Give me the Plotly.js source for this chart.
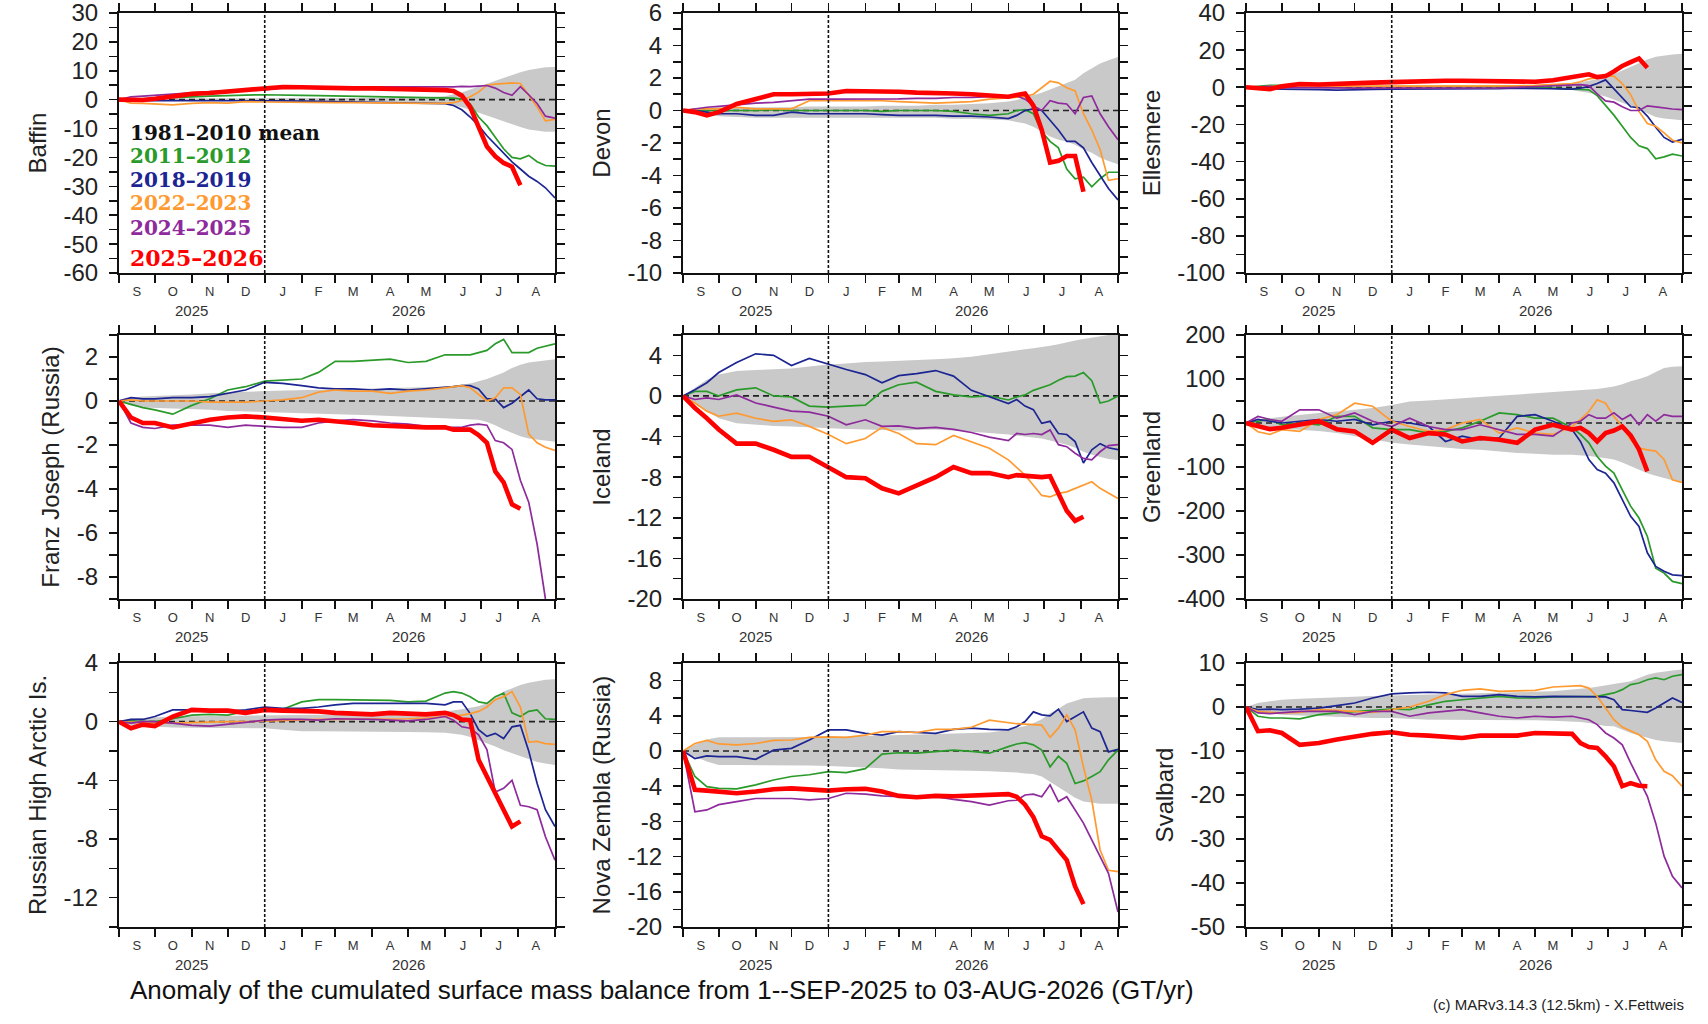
<!DOCTYPE html>
<html><head><meta charset="utf-8">
<script src="https://cdn.plot.ly/plotly-3.0.1.min.js"></script>
<style>html,body{margin:0;padding:0;background:#fff}#chart{width:1708px;height:1024px}</style>
</head><body><div id="chart"></div>
<script>
// day offsets from 1 Sep 2025
const days = [0,10,20,30,45,61,76,91,106,122,137,153,167,181,196,212,227,242,257,273,280,287,294,301,308,315,322,329,336,343,350,357,365];
const monthStarts = ['2025-09-01','2025-10-01','2025-11-01','2025-12-01','2026-01-01','2026-02-01','2026-03-01','2026-04-01','2026-05-01','2026-06-01','2026-07-01','2026-08-01','2026-09-01'];
const monthMids = ['2025-09-16','2025-10-16','2025-11-16','2025-12-16','2026-01-16','2026-02-15','2026-03-16','2026-04-16','2026-05-16','2026-06-16','2026-07-16','2026-08-16'];
const monthLetters = ['S','O','N','D','J','F','M','A','M','J','J','A'];
const yearLabels = ['2025','2026'];
const yearDates = ['2025-11-01','2026-05-01'];
const yearBreak = '2026-01-01';
const legendLabels = ['1981\u20132010 mean','2011\u20132012','2018\u20132019','2022\u20132023','2024\u20132025','2025\u20132026'];
const seriesNames = ['2011-2012','2018-2019','2022-2023','2024-2025','2025-2026'];

// ---- Baffin
const baffin_hi = [0,0.3,0.3,0.4,0.4,0.4,0.4,0.5,0.5,0.5,0.5,0.5,0.5,0.6,0.6,0.6,0.6,0.7,0.8,1.2,1.8,2.5,3.5,4.5,5.5,6.5,7.6,8.5,9.5,10.3,10.8,11.2,11.3];
const baffin_lo = [0,-0.3,-0.3,-0.4,-0.4,-0.4,-0.5,-0.5,-0.5,-0.5,-0.5,-0.5,-0.6,-0.6,-0.6,-0.6,-0.7,-0.8,-1.0,-1.4,-2.0,-2.6,-3.5,-4.5,-5.5,-6.6,-7.5,-8.5,-9.5,-10.3,-10.8,-11.1,-11.1];
const baffin_2011 = [0,0.2,0.3,0.5,0.8,1.0,1.2,1.5,1.6,1.7,1.7,1.5,1.4,1.3,1.2,1.1,1.0,1.0,0.9,0.7,0.5,0.2,-1.5,-6,-9,-13,-17,-20,-20.5,-19.3,-21.5,-22.8,-23];
const baffin_2018 = [0,-0.3,-0.3,-0.3,-0.3,-0.2,-0.3,-0.3,-0.2,-0.3,-0.4,-0.5,-0.6,-0.8,-0.9,-1.0,-1.1,-1.2,-1.3,-1.4,-2.0,-3.5,-6,-9,-12.5,-15.5,-18.5,-21.5,-24,-26.5,-28.3,-30.5,-34];
const baffin_2022 = [0,-1.2,-1.3,-1.5,-1.8,-1.3,-1.0,-1.2,-0.7,-0.8,-0.9,-1.0,-1.0,-1.0,-1.0,-1.1,-1.3,-1.4,-1.3,-1.3,-1.0,-0.3,1.0,2.6,5.0,5.4,5.6,5.8,5.6,1.5,-2.5,-7.3,-6.8];
const baffin_2024 = [0,1.0,1.2,1.5,2.0,2.5,2.8,3.0,3.2,3.5,4.0,4.2,4.3,4.3,4.4,4.4,4.3,4.5,4.4,4.3,4.4,4.6,4.5,4.7,4.9,4.0,2.5,1.5,4.5,1.7,-1.3,-5.7,-6.4];
const baffin_2025 = [0,0,-0.1,0.3,1.3,2.0,2.3,2.8,3.3,3.6,4.4,4.3,4.1,4.0,3.9,3.9,3.8,3.8,3.6,3.3,3.0,1.4,-2.6,-9.4,-16.2,-19.6,-21.9,-23.2,-29.6];
// ---- Devon
const devon_hi = [0,0.1,0.15,0.2,0.2,0.2,0.2,0.2,0.25,0.25,0.25,0.25,0.3,0.3,0.3,0.35,0.35,0.4,0.45,0.55,0.65,0.8,0.95,1.1,1.3,1.5,1.7,1.9,2.3,2.6,2.9,3.1,3.3];
const devon_lo = [0,-0.15,-0.25,-0.35,-0.4,-0.45,-0.45,-0.45,-0.45,-0.45,-0.45,-0.45,-0.45,-0.45,-0.45,-0.45,-0.5,-0.5,-0.55,-0.6,-0.7,-0.8,-1.0,-1.3,-1.6,-1.8,-1.9,-2.1,-2.4,-2.6,-2.9,-3.1,-3.3];
const devon_2011 = [0,0,0,0,0,0,0.05,0,0,0,0,0,-0.05,0,0,0,-0.05,-0.2,-0.3,-0.2,0,0.05,-0.2,-1.3,-1.9,-2.3,-3.6,-4.2,-4.1,-4.7,-4.2,-3.8,-3.8];
const devon_2018 = [0,0,-0.1,-0.2,-0.2,-0.3,-0.3,-0.1,-0.2,-0.2,-0.2,-0.2,-0.25,-0.3,-0.3,-0.3,-0.35,-0.35,-0.4,-0.5,-0.3,0,0.1,0,-0.6,-1.2,-1.9,-1.9,-2.3,-3.2,-4.0,-4.8,-5.5];
const devon_2022 = [0,0.1,0.1,0.1,0.2,0.1,0.1,0.1,0.6,0.6,0.6,0.6,0.6,0.55,0.5,0.45,0.5,0.55,0.7,0.8,0.8,0.85,1.0,1.4,1.8,1.7,1.4,1.2,-0.2,-1.2,-2.4,-4.3,-4.2];
const devon_2024 = [0,0.1,0.2,0.25,0.35,0.45,0.5,0.6,0.7,0.7,0.7,0.7,0.7,0.72,0.75,0.75,0.8,0.8,0.85,0.9,0.9,0.7,0.3,0.0,0.6,0.45,0.4,-0.2,0.8,0.9,-0.2,-1.0,-1.8];
const devon_2025 = [0,-0.1,-0.3,-0.1,0.4,0.7,1.0,1.0,1.0,1.05,1.2,1.2,1.17,1.15,1.1,1.1,1.05,1.0,0.95,0.85,0.95,1.05,0.3,-1.2,-3.2,-3.1,-2.8,-2.8,-5.0];
// ---- Ellesmere
const ellesmere_hi = [0,0.3,0.5,0.5,0.6,0.6,0.6,0.6,0.7,0.7,0.7,0.7,0.8,0.8,0.8,0.9,0.9,1.0,1.2,1.8,2.6,3.4,4.4,5.5,7.0,9.0,11,13,15,16.5,17.2,17.7,18];
const ellesmere_lo = [0,-0.3,-0.5,-0.5,-0.6,-0.6,-0.6,-0.6,-0.7,-0.7,-0.7,-0.7,-0.8,-0.8,-0.8,-0.9,-0.9,-1.0,-1.2,-1.5,-2.3,-3.0,-3.8,-5.0,-6.5,-8.3,-10,-12,-14,-16,-16.8,-17.3,-17.7];
const ellesmere_2011 = [0,0.5,1.0,1.0,1.0,0.8,0.5,0.5,0.5,0.5,0.5,0.5,0.5,0.5,0.3,0.3,0.3,0.0,-0.3,-1.0,-1.2,-1.4,-4.5,-9.5,-15,-21,-27,-31.5,-33,-38.5,-37.5,-36,-37];
const ellesmere_2018 = [0,-0.5,-0.8,-1.0,-1.0,-1.3,-1.5,-1.5,-1.2,-1.0,-1.0,-1.0,-1.0,-1.0,-1.0,-0.8,-0.5,-0.5,-0.8,-1.0,-0.5,0.5,2.0,4.0,-1.0,-6.0,-10.5,-11,-15.5,-21.5,-27,-29.5,-28];
const ellesmere_2022 = [0,0,0.5,0.5,0.5,0.5,0.5,0.5,0.5,0.5,0.5,0.5,0.5,0.5,0.5,0.5,0.8,1.0,1.5,2.0,3.0,4.5,5.0,6.0,6.0,2.0,-4.0,-13,-19.5,-21,-24.5,-28.5,-30];
const ellesmere_2024 = [0,0.3,0.5,0,0,-0.2,-0.3,-0.5,-0.5,-0.5,-0.5,-0.5,-0.5,-0.5,-0.5,-0.3,0,0.3,0.8,1.2,1.4,0.9,-3.5,-7.3,-8,-10.5,-12.5,-12.5,-10,-10.5,-11.2,-11.7,-12];
const ellesmere_2025 = [0,-0.5,-1.0,0.5,1.8,1.5,2.0,2.3,2.5,2.8,3.2,3.4,3.5,3.5,3.4,3.2,3.0,3.0,3.8,5.5,6.0,7.0,5.5,6.0,8.5,11.5,13.5,15.5,10.5];
// ---- Franz Joseph
const franz_hi = [0,0.15,0.2,0.22,0.25,0.3,0.35,0.4,0.42,0.45,0.47,0.48,0.5,0.5,0.52,0.55,0.57,0.6,0.62,0.65,0.7,0.75,0.8,0.9,1.0,1.15,1.3,1.5,1.65,1.75,1.8,1.85,1.9];
const franz_lo = [0,-0.2,-0.3,-0.32,-0.33,-0.35,-0.4,-0.45,-0.47,-0.5,-0.52,-0.55,-0.57,-0.6,-0.62,-0.65,-0.68,-0.7,-0.73,-0.77,-0.78,-0.8,-0.82,-0.85,-0.95,-1.1,-1.3,-1.45,-1.6,-1.7,-1.75,-1.8,-1.85];
const franz_2011 = [0,-0.15,-0.3,-0.4,-0.6,-0.2,0.1,0.5,0.65,0.9,0.95,1.0,1.3,1.8,1.8,1.85,1.9,1.75,1.8,2.1,2.1,2.1,2.1,2.2,2.3,2.6,2.8,2.2,2.2,2.2,2.4,2.5,2.6];
const franz_2018 = [0,0.15,0.1,0.1,0.15,0.15,0.2,0.35,0.5,0.85,0.8,0.7,0.6,0.55,0.55,0.5,0.55,0.5,0.55,0.6,0.65,0.7,0.7,0.55,0.1,0.1,-0.3,-0.1,0.2,0.5,0.1,0.05,0.05];
const franz_2022 = [0,0.05,0,0,0,0,-0.05,-0.05,-0.05,0,0.05,0.15,0.4,0.5,0.45,0.45,0.35,0.45,0.5,0.6,0.65,0.7,0.6,0.3,0,0.15,0.6,0.6,0.3,-1.5,-1.9,-2.1,-2.25];
const franz_2024 = [0,-1.0,-1.2,-1.25,-1.1,-1.1,-1.1,-1.2,-1.1,-1.15,-1.2,-1.2,-1.0,-0.9,-0.85,-0.9,-1.0,-1.05,-1.15,-1.2,-1.2,-1.2,-1.1,-1.05,-1.1,-1.8,-1.9,-2.2,-3.6,-4.6,-6.5,-9.0,-10.5];
const franz_2025 = [0,-0.75,-1.0,-1.0,-1.2,-1.0,-0.85,-0.75,-0.7,-0.75,-0.8,-0.9,-0.85,-0.9,-1.0,-1.1,-1.15,-1.15,-1.2,-1.2,-1.3,-1.3,-1.3,-1.55,-1.9,-3.2,-3.7,-4.7,-4.9];
// ---- Iceland
const iceland_hi = [0,0.8,1.6,2.1,2.45,2.55,2.6,2.7,2.9,3.1,3.2,3.35,3.4,3.45,3.5,3.6,3.7,3.85,4.1,4.4,4.5,4.6,4.7,4.8,4.95,5.1,5.3,5.45,5.6,5.75,5.9,6.0,6.1];
const iceland_lo = [0,-0.7,-1.5,-2.2,-2.7,-2.85,-2.95,-3.0,-3.1,-3.2,-3.25,-3.3,-3.35,-3.4,-3.35,-3.3,-3.4,-3.5,-3.65,-3.8,-3.9,-4.0,-4.1,-4.2,-4.4,-4.6,-4.8,-5.1,-5.5,-5.8,-6.0,-6.2,-6.3];
const iceland_2011 = [0,0.45,0.45,0.0,0.6,0.8,0.0,-0.1,-1.0,-1.1,-1.0,-0.9,0.45,1.1,1.35,0.45,0.1,-0.1,0.0,-0.4,-0.1,0.1,0.55,0.8,1.1,1.55,1.9,1.95,2.3,1.5,-0.7,-0.5,0.0];
const iceland_2018 = [0,0.6,1.3,2.3,3.3,4.15,4.0,3.0,3.7,3.1,2.6,2.1,1.3,2.0,2.2,2.5,1.95,0.55,-0.1,-0.75,-0.35,-1.0,-1.35,-2.7,-2.5,-3.7,-3.8,-4.5,-6.6,-5.3,-4.7,-5.1,-5.3];
const iceland_2022 = [0,-0.7,-1.5,-2.0,-1.7,-2.2,-2.5,-2.35,-3.0,-3.8,-4.7,-4.2,-3.1,-3.7,-4.7,-4.8,-3.9,-4.5,-5.15,-6.3,-7.1,-7.8,-8.8,-9.8,-9.95,-9.6,-9.45,-9.1,-8.8,-8.45,-9.1,-9.6,-10.1];
const iceland_2024 = [0,-0.35,-0.2,-0.35,0.1,-0.7,-1.1,-1.5,-1.6,-2.0,-2.85,-2.35,-3.0,-2.95,-3.2,-3.1,-3.3,-3.6,-4.05,-4.4,-3.7,-3.8,-3.7,-3.8,-3.35,-4.8,-5.0,-5.65,-6.15,-6.3,-5.5,-4.9,-4.8];
const iceland_2025 = [0,-1.2,-2.2,-3.3,-4.7,-4.7,-5.3,-6.0,-6.0,-7.0,-8.0,-8.1,-9.1,-9.6,-8.8,-8.0,-7.0,-7.6,-7.6,-8.0,-7.8,-7.9,-8.0,-8.0,-7.9,-9.6,-11.3,-12.3,-11.9];
// ---- Greenland
const greenland_hi = [0,6,11,14,19,23,26,30,34,41,49,51,53,56,59,62,64,67,70,72,74,75,77,80,83,88,95,100,106,116,125,128,129];
const greenland_lo = [0,-6,-11,-13,-15,-18,-23,-30,-38,-45,-49,-53,-57,-59,-61,-65,-68,-70,-72,-72,-73,-75,-77,-80,-83,-90,-98,-106,-114,-120,-125,-130,-133];
const greenland_2011 = [0,4,8,-4,0,-4,15,15,-11,-15,-15,-23,-19,-11,4,23,19,11,11,-11,-26,-45,-76,-98,-114,-152,-189,-216,-258,-330,-341,-360,-365];
const greenland_2018 = [0,8,4,0,4,8,4,8,-4,4,0,-8,-42,-30,-38,-34,15,19,4,-15,-42,-83,-106,-114,-136,-174,-212,-235,-295,-326,-337,-345,-347];
const greenland_2022 = [0,-20,-26,-15,-19,8,19,45,38,4,-8,-19,-15,0,8,-23,-11,-23,-26,-8,8,26,53,45,15,-8,-38,-57,-61,-64,-83,-129,-135];
const greenland_2024 = [0,15,8,4,30,30,11,23,4,-8,11,-8,-15,-15,-4,-15,-26,-26,-30,0,4,19,11,11,23,8,19,-4,19,4,19,15,15];
const greenland_2025 = [0,-6,-14,-11,-4,4,-14,-19,-45,-15,-34,-23,-26,-42,-34,-38,-45,-15,-4,-15,-11,-23,-42,-23,-17,-8,-28,-60,-110];
// ---- Russian High Arctic
const rha_hi = [0,0.2,0.25,0.3,0.35,0.37,0.38,0.4,0.42,0.45,0.45,0.45,0.45,0.45,0.47,0.48,0.5,0.5,0.55,0.7,0.75,0.85,0.95,1.05,1.25,1.6,2.05,2.3,2.5,2.65,2.75,2.85,2.9];
const rha_lo = [0,-0.25,-0.3,-0.35,-0.4,-0.42,-0.44,-0.45,-0.45,-0.45,-0.55,-0.65,-0.65,-0.65,-0.68,-0.7,-0.7,-0.7,-0.72,-0.75,-0.82,-0.9,-1.05,-1.25,-1.45,-1.7,-1.95,-2.15,-2.4,-2.55,-2.75,-2.85,-2.95];
const rha_2011 = [0,0.05,0,0,0.2,0.45,0.5,0.45,0.7,0.8,0.85,1.35,1.5,1.5,1.5,1.5,1.45,1.35,1.4,1.95,2.05,1.95,1.7,1.35,1.25,1.7,1.95,0.6,0.35,0.7,0.8,0.2,0.15];
const rha_2018 = [0,0.15,0.15,0.35,0.8,0.8,0.7,0.7,0.8,1.0,0.9,0.9,1.0,1.15,1.25,1.25,1.25,1.2,1.25,1.15,1.35,1.35,0.55,-0.55,-1.0,-0.8,-1.15,-0.35,-0.25,-2.0,-4.2,-6.0,-7.15];
const rha_2022 = [0,-0.05,-0.1,-0.1,-0.1,-0.05,-0.05,0,0,0.05,0.1,0.15,0.15,0.15,0.15,0.2,0.2,0.2,0.25,0.35,0.4,0.45,0.55,0.7,1.0,1.5,1.7,2.05,1.0,-1.4,-1.35,-1.5,-1.55];
const rha_2024 = [0,-0.1,0,0,-0.1,-0.25,-0.3,-0.15,-0.05,0.1,0.15,0.15,0.1,0.2,0.2,0.15,0.1,0.05,0.15,0.35,0.1,-0.35,-0.45,-0.9,-1.9,-4.8,-4.55,-4.0,-5.7,-5.8,-6.0,-7.85,-9.45];
const rha_2025 = [0,-0.45,-0.2,-0.3,0.35,0.8,0.75,0.75,0.6,0.8,0.75,0.75,0.7,0.6,0.55,0.5,0.6,0.55,0.5,0.6,0.45,0.15,0.1,-2.6,-3.75,-4.9,-5.9,-7.15,-6.8];
// ---- Nova Zembla
const nova_hi = [0,0.7,1.3,1.55,1.55,1.55,1.55,1.55,1.58,1.6,1.65,1.7,1.75,1.8,1.85,1.95,1.97,2.0,2.1,2.4,2.6,2.85,3.15,3.6,4.3,4.8,5.4,5.7,6.0,6.05,6.1,6.1,6.1];
const nova_lo = [0,-0.65,-1.2,-1.6,-1.6,-1.6,-1.6,-1.6,-1.65,-1.7,-1.78,-1.85,-1.95,-2.1,-2.12,-2.15,-2.2,-2.25,-2.3,-2.35,-2.45,-2.55,-2.6,-2.9,-3.5,-4.1,-4.8,-5.3,-5.75,-5.9,-6.0,-6.0,-6.0];
const nova_2011 = [0,-2.9,-4.05,-4.25,-4.3,-3.85,-3.3,-2.9,-2.7,-2.35,-2.45,-2.0,-0.35,-0.2,-0.25,-0.1,0.1,-0.05,-0.25,0.5,0.8,0.95,0.7,0.1,-1.8,-0.6,-1.4,-3.7,-3.4,-2.9,-2.35,-1.0,0.1];
const nova_2018 = [0,-0.85,-0.55,-0.65,-0.65,-0.95,0.1,0.3,1.25,2.4,2.4,2.0,1.8,2.2,2.1,2.0,2.45,2.6,2.45,2.4,2.75,3.35,4.45,4.1,4.0,4.75,3.35,3.9,4.45,2.6,2.2,-0.1,0.2];
const nova_2022 = [0,0.85,1.2,0.8,0.7,0.85,1.2,1.25,1.55,1.6,1.55,1.8,2.2,2.2,2.1,2.45,2.45,2.7,3.5,3.2,3.1,3.05,3.0,2.95,1.55,2.6,4.1,2.4,-1.8,-5.6,-11.25,-13.55,-13.7];
const nova_2024 = [0,-6.9,-6.7,-6.1,-5.75,-5.4,-5.4,-5.4,-5.55,-5.4,-4.8,-4.9,-5.1,-5.2,-5.2,-5.2,-5.5,-5.75,-6.15,-5.65,-5.6,-5.0,-4.9,-5.2,-3.85,-5.75,-5.2,-6.7,-8.2,-10.1,-12.0,-13.9,-18.3];
const nova_2025 = [0,-4.4,-4.5,-4.6,-4.8,-4.6,-4.35,-4.25,-4.4,-4.5,-4.35,-4.3,-4.6,-5.1,-5.25,-5.1,-5.15,-5.1,-5.0,-4.9,-5.2,-6.1,-7.5,-9.7,-10.1,-11.25,-12.4,-15.4,-17.4];
// ---- Svalbard
const svalbard_hi = [0,0.9,1.3,1.65,1.85,2.05,2.2,2.4,2.5,2.6,2.7,2.8,2.9,3.0,3.1,3.2,3.3,3.35,3.6,3.95,4.1,4.3,4.6,4.9,5.1,5.5,5.85,6.6,7.35,7.8,8.1,8.3,8.5];
const svalbard_lo = [0,-1.0,-1.4,-1.75,-1.95,-2.1,-2.3,-2.5,-2.5,-2.5,-2.7,-2.9,-2.9,-2.9,-2.95,-3.0,-3.0,-3.0,-3.1,-3.25,-3.4,-3.65,-4.0,-4.3,-4.4,-5.2,-5.9,-6.5,-7.05,-7.5,-7.8,-8.0,-8.2];
const svalbard_2011 = [0,-2.1,-2.5,-2.5,-2.7,-1.75,-1.35,-1.0,-0.75,-0.45,-0.6,0.5,1.3,1.65,2.05,2.4,2.05,2.05,2.3,2.4,2.4,2.4,2.4,2.8,3.2,3.95,5.1,5.45,6.2,6.6,6.2,7.0,7.35];
const svalbard_2018 = [0,-0.6,-0.5,-0.6,-0.5,-0.25,0.3,0.9,2.05,3.0,3.2,3.35,3.2,2.4,2.4,2.8,2.4,2.3,2.4,2.4,2.4,2.3,2.3,2.3,1.65,-0.6,-0.8,-1.0,-1.2,-0.25,0.9,2.05,1.05];
const svalbard_2022 = [0,-1.0,-1.2,-1.35,-1.2,-0.6,-0.75,-1.0,-1.2,-0.6,0,1.3,2.8,3.8,4.1,3.55,3.6,3.8,4.55,4.85,4.85,4.3,2.4,-0.25,-2.9,-4.55,-5.5,-6.3,-7.8,-12,-14.6,-15.6,-18.0];
const svalbard_2024 = [0,-1.35,-1.5,-1.35,-1.0,-1.0,-1.0,-1.75,-1.0,-1.0,-2.1,-1.35,-1.0,-0.6,-1.35,-2.1,-2.5,-2.1,-2.3,-2.1,-2.5,-2.9,-4.0,-5.9,-7.05,-8.6,-12.7,-16.5,-20.3,-26.4,-33.9,-38.5,-41.1];
const svalbard_2025 = [0,-5.5,-5.3,-5.9,-8.6,-8.2,-7.4,-6.7,-6.1,-5.75,-6.3,-6.5,-6.8,-7.05,-6.5,-6.5,-6.5,-5.9,-6.1,-6.1,-8.2,-9.1,-9.3,-11.2,-13.5,-18.0,-17.3,-17.9,-18.0];

// axis tick labels per region
const regionNames = ['Baffin','Devon','Ellesmere','Franz Joseph (Russia)','Iceland','Greenland','Russian High Arctic Is.','Nova Zembla (Russia)','Svalbard'];
const yTicks = [
  [30,20,10,0,-10,-20,-30,-40,-50,-60],
  [6,4,2,0,-2,-4,-6,-8,-10],
  [40,20,0,-20,-40,-60,-80,-100],
  [2,0,-2,-4,-6,-8],
  [4,0,-4,-8,-12,-16,-20],
  [200,100,0,-100,-200,-300,-400],
  [4,0,-4,-8,-12],
  [8,4,0,-4,-8,-12,-16,-20],
  [10,0,-10,-20,-30,-40,-50]
];
const yRanges = [[-60,30],[-10,6],[-100,40],[-9,3],[-20,6],[-400,200],[-14,4],[-20,10],[-50,10]];
const yMinor = [5,1,10,1,2,50,2,2,5];

const regionData = [
  [baffin_lo,baffin_hi,baffin_2011,baffin_2018,baffin_2022,baffin_2024,baffin_2025],
  [devon_lo,devon_hi,devon_2011,devon_2018,devon_2022,devon_2024,devon_2025],
  [ellesmere_lo,ellesmere_hi,ellesmere_2011,ellesmere_2018,ellesmere_2022,ellesmere_2024,ellesmere_2025],
  [franz_lo,franz_hi,franz_2011,franz_2018,franz_2022,franz_2024,franz_2025],
  [iceland_lo,iceland_hi,iceland_2011,iceland_2018,iceland_2022,iceland_2024,iceland_2025],
  [greenland_lo,greenland_hi,greenland_2011,greenland_2018,greenland_2022,greenland_2024,greenland_2025],
  [rha_lo,rha_hi,rha_2011,rha_2018,rha_2022,rha_2024,rha_2025],
  [nova_lo,nova_hi,nova_2011,nova_2018,nova_2022,nova_2024,nova_2025],
  [svalbard_lo,svalbard_hi,svalbard_2011,svalbard_2018,svalbard_2022,svalbard_2024,svalbard_2025]
];

// ---- styling
const W = 1708, H = 1024;
const colPx = [[119,555],[683,1118],[1246,1682]];
const rowPx = [[13,273],[335,599],[663,927]];
const seriesColors = ['#2a9a2a','#1c2592','#ff9a30','#8e2a9c','#ff0000'];
const seriesWidths = [1.7,1.7,1.7,1.7,4.6];
const legendColors = ['#111111','#2a9a2a','#1c2592','#ff9a30','#8e2a9c','#ff0000'];
const FONT = 'Liberation Sans, Arial, sans-serif';

function dayToDate(d){ return new Date(Date.UTC(2025,8,1) + d*86400000).toISOString().slice(0,10); }
const X = days.map(dayToDate);
const xStart = monthStarts[0], xEnd = monthStarts[monthStarts.length-1];

const traces = [];
const layout = {
  width: W, height: H, margin:{l:0,r:0,t:0,b:0}, autosize:false,
  paper_bgcolor:'#fff', plot_bgcolor:'#fff', showlegend:false,
  font:{family:FONT, color:'#222'},
  shapes:[], annotations:[]
};

regionNames.forEach((name, i) => {
  const r = Math.floor(i/3), c = i%3;
  const sfx = i===0 ? '' : String(i+1);
  const xa = 'x'+sfx, ya = 'y'+sfx;
  const [lo, hi, s11, s18, s22, s24, s25] = regionData[i];
  traces.push({x:X, y:lo, xaxis:xa, yaxis:ya, type:'scatter', mode:'lines', line:{width:0,color:'rgba(0,0,0,0)'}, hoverinfo:'skip'});
  traces.push({x:X, y:hi, xaxis:xa, yaxis:ya, type:'scatter', mode:'lines', fill:'tonexty', fillcolor:'#c9c9c9', line:{width:0,color:'rgba(0,0,0,0)'}, hoverinfo:'skip'});
  traces.push({x:[xStart,xEnd], y:[0,0], xaxis:xa, yaxis:ya, type:'scatter', mode:'lines', line:{color:'#222', width:1.6, dash:'6px,4px'}, hoverinfo:'skip'});
  [s11,s18,s22,s24,s25].forEach((s, k) => {
    traces.push({x:X.slice(0,s.length), y:s, xaxis:xa, yaxis:ya, type:'scatter', mode:'lines', name:seriesNames[k],
      line:{color:seriesColors[k], width:seriesWidths[k]}});
  });
  const xd = [colPx[c][0]/W, colPx[c][1]/W];
  const yd = [1-rowPx[r][1]/H, 1-rowPx[r][0]/H];
  layout['xaxis'+sfx] = {
    domain:xd, anchor:ya, type:'date', range:[xStart,xEnd],
    tickmode:'array', tickvals:monthMids, ticktext:monthLetters, ticks:'',
    tickfont:{size:13, color:'#333', family:FONT}, ticklabelstandoff:5,
    minor:{tickmode:'array', tickvals:monthStarts, ticks:'outside', ticklen:8, tickwidth:1.6, tickcolor:'#111'},
    showline:true, linecolor:'#111', linewidth:2, mirror:'ticks', showgrid:false, zeroline:false, fixedrange:true
  };
  layout['yaxis'+sfx] = {
    domain:yd, anchor:xa, range:yRanges[i],
    tickmode:'array', tickvals:yTicks[i], ticktext:yTicks[i].map(String),
    ticks:'outside', ticklen:8, tickwidth:1.6, tickcolor:'#111', ticklabeloverflow:'allow',
    minor:{tickmode:'linear', tick0:0, dtick:yMinor[i], ticks:'outside', ticklen:8, tickwidth:1.6, tickcolor:'#111'},
    tickfont:{size:24, color:'#222', family:FONT}, ticklabelstandoff:6,
    showline:true, linecolor:'#111', linewidth:2, mirror:'ticks', showgrid:false, zeroline:false, fixedrange:true,
    title:{text:name, font:{size:24, color:'#222', family:FONT}, standoff:10}
  };
  layout.shapes.push({type:'line', xref:xa, yref:ya+' domain', x0:yearBreak, x1:yearBreak, y0:0, y1:1,
    line:{color:'#111', width:1.6, dash:'3px,2px'}});
  yearLabels.forEach((t, k) => {
    layout.annotations.push({xref:xa, yref:'paper', x:yearDates[k], y:1-(rowPx[r][1]+37)/H, text:t, showarrow:false,
      xanchor:'center', yanchor:'middle', font:{size:15, color:'#333', family:FONT}});
  });
});

// legend inside Baffin panel
const legendY = [133,156,180,203,228,258];
legendLabels.forEach((t, k) => {
  layout.annotations.push({xref:'paper', yref:'paper', x:128/W, y:1-legendY[k]/H, text:'<b>'+t+'</b>', showarrow:false,
    xanchor:'left', yanchor:'middle', font:{size: k===5 ? 22 : 20, color:legendColors[k], family:'DejaVu Serif, serif'}});
});

layout.annotations.push({xref:'paper', yref:'paper', x:128/W, y:1-990/H, xanchor:'left', yanchor:'middle', showarrow:false,
  text:'Anomaly of the cumulated surface mass balance from 1--SEP-2025 to 03-AUG-2026 (GT/yr)', font:{size:26, color:'#111', family:FONT}});
layout.annotations.push({xref:'paper', yref:'paper', x:1686/W, y:1-1004/H, xanchor:'right', yanchor:'middle', showarrow:false,
  text:'(c) MARv3.14.3 (12.5km) - X.Fettweis', font:{size:15, color:'#222', family:FONT}});

Plotly.newPlot('chart', traces, layout, {staticPlot:true, displayModeBar:false});
</script></body></html>
